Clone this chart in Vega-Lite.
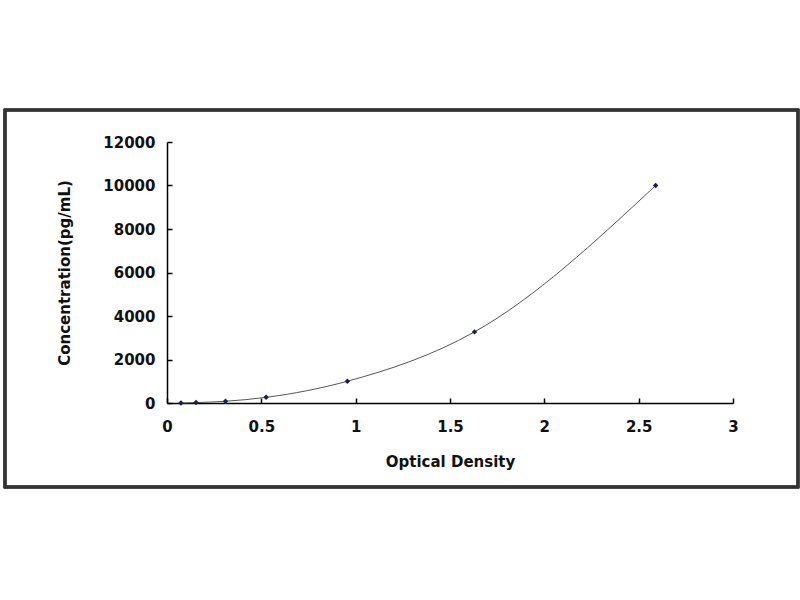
{
  "$schema": "https://vega.github.io/schema/vega-lite/v6.json",
  "autosize": {"type": "none"},
  "padding": {"left": 167, "top": 142, "right": 67, "bottom": 197},
  "width": 566,
  "height": 261,
  "background": "white",
  "config": {
    "view": {"stroke": null},
    "font": "DejaVu Sans",
    "axis": {
      "grid": false,
      "labelFlush": false,
      "domainColor": "black",
      "domainWidth": 1.5,
      "tickColor": "black",
      "tickWidth": 1.5,
      "tickSize": -5,
      "labelFont": "DejaVu Sans",
      "labelFontWeight": "bold",
      "labelFontSize": 15,
      "labelColor": "#111111",
      "titleFont": "DejaVu Sans",
      "titleFontWeight": "bold",
      "titleFontSize": 15,
      "titleColor": "#111111"
    }
  },
  "data": {
    "values": [
      {"od": 0.074, "conc": 0},
      {"od": 0.154, "conc": 20},
      {"od": 0.31, "conc": 80},
      {"od": 0.525, "conc": 260},
      {"od": 0.956, "conc": 1000},
      {"od": 1.63, "conc": 3270},
      {"od": 2.59, "conc": 10000}
    ]
  },
  "encoding": {
    "x": {
      "field": "od", "type": "quantitative",
      "title": "Optical Density",
      "scale": {"domain": [0, 3], "nice": false},
      "axis": {"values": [0, 0.5, 1, 1.5, 2, 2.5, 3], "format": "~g", "labelPadding": 21, "titlePadding": 20}
    },
    "y": {
      "field": "conc", "type": "quantitative",
      "title": "Concentration(pg/mL)",
      "scale": {"domain": [0, 12000], "nice": false},
      "axis": {"values": [0, 2000, 4000, 6000, 8000, 10000, 12000], "format": "d", "labelPadding": 17, "titlePadding": 30}
    }
  },
  "layer": [
    {
      "mark": {"type": "rect", "fill": null, "stroke": "#333333", "strokeWidth": 2.5, "clip": false},
      "encoding": {
        "x": {"datum": -0.8587, "type": "quantitative"},
        "x2": {"datum": 3.3445},
        "y": {"datum": 13471, "type": "quantitative"},
        "y2": {"datum": -3862}
      }
    },
    {
      "mark": {"type": "line", "interpolate": "monotone", "color": "#555555", "strokeWidth": 1}
    },
    {
      "mark": {"type": "point", "shape": "diamond", "filled": true, "size": 30, "color": "#1a1a5e", "opacity": 1}
    }
  ]
}
